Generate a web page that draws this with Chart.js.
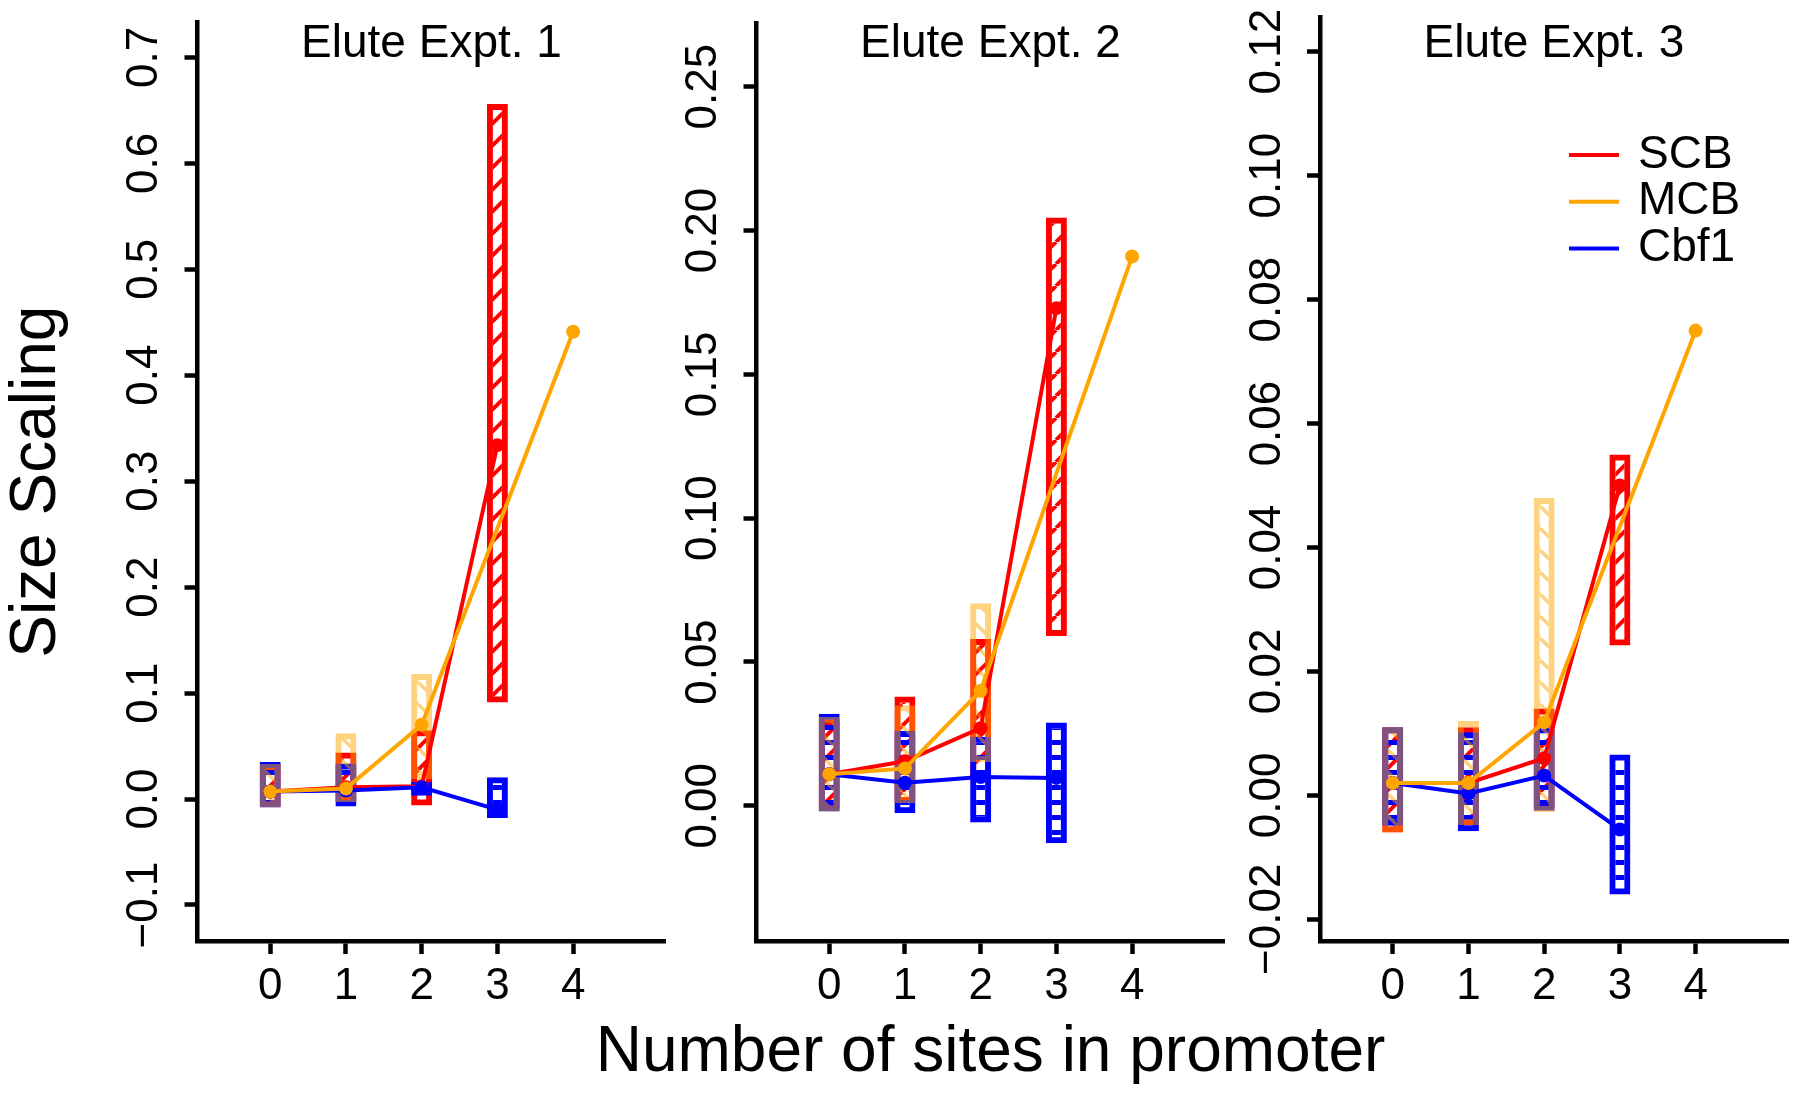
<!DOCTYPE html>
<html><head><meta charset="utf-8">
<script src="https://cdn.jsdelivr.net/npm/chart.js@4.4.1/dist/chart.umd.min.js"></script>
<style>
html,body{margin:0;padding:0;background:#fff;}
#wrap{position:relative;width:1800px;height:1098px;overflow:hidden;}
.panel{position:absolute;left:0;top:0;width:1800px;height:1098px;}
</style></head><body>
<div id="wrap">
<div class="panel"><canvas id="c1"></canvas></div>
<div class="panel"><canvas id="c2"></canvas></div>
<div class="panel"><canvas id="c3"></canvas></div>
</div>
<script>
// ---------------- data ----------------
const sites = [0, 1, 2, 3, 4];
const xTicks = [0, 1, 2, 3, 4];
const seriesNames = ['SCB', 'MCB', 'Cbf1'];
const panelTitles = ['Elute Expt. 1', 'Elute Expt. 2', 'Elute Expt. 3'];
const xTitle = 'Number of sites in promoter';
const yTitle = 'Size Scaling';

// Elute Expt. 1
const scb1   = [0.007, 0.011, 0.012, 0.334];
const scb1Lo = [-0.007, -0.003, -0.006, 0.091];
const scb1Hi = [0.033, 0.044, 0.065, 0.656];
const mcb1   = [0.007, 0.010, 0.070, null, 0.441];
const mcb1Lo = [-0.008, -0.003, 0.019, null, null];
const mcb1Hi = [0.033, 0.062, 0.118, null, null];
const cbf1_1   = [0.007, 0.008, 0.011, -0.010];
const cbf1_1Lo = [-0.008, -0.007, 0.003, -0.018];
const cbf1_1Hi = [0.035, 0.0335, 0.016, 0.0206];

// Elute Expt. 2
const scb2   = [0.011, 0.0155, 0.027, 0.173];
const scb2Lo = [-0.001, 0.001, 0.0095, 0.059];
const scb2Hi = [0.030, 0.038, 0.058, 0.2045];
const mcb2   = [0.011, 0.013, 0.040, null, 0.191];
const mcb2Lo = [-0.002, 0.001, 0.0152, null, null];
const mcb2Hi = [0.031, 0.035, 0.0704, null, null];
const cbf1_2   = [0.011, 0.008, 0.010, 0.0097];
const cbf1_2Lo = [-0.002, -0.0026, -0.0058, -0.013];
const cbf1_2Hi = [0.032, 0.026, 0.024, 0.029];

// Elute Expt. 3
const scb3   = [0.002, 0.002, 0.006, 0.050];
const scb3Lo = [-0.006, -0.0048, -0.002, 0.0242];
const scb3Hi = [0.011, 0.011, 0.014, 0.055];
const mcb3   = [0.002, 0.002, 0.0118, null, 0.075];
const mcb3Lo = [-0.006, -0.0048, -0.0027, null, null];
const mcb3Hi = [0.011, 0.012, 0.048, null, null];
const cbf1_3   = [0.002, 0.0003, 0.0032, -0.0055];
const cbf1_3Lo = [-0.0049, -0.0058, -0.0025, -0.016];
const cbf1_3Hi = [0.011, 0.0102, 0.011, 0.0066];

// axis ticks
const yTicks1  = [-0.1, 0, 0.1, 0.2, 0.3, 0.4, 0.5, 0.6, 0.7];
const yLabels1 = ['\u22120.1', '0.0', '0.1', '0.2', '0.3', '0.4', '0.5', '0.6', '0.7'];
const yTicks2  = [0, 0.05, 0.10, 0.15, 0.20, 0.25];
const yLabels2 = ['0.00', '0.05', '0.10', '0.15', '0.20', '0.25'];
const yTicks3  = [-0.02, 0, 0.02, 0.04, 0.06, 0.08, 0.10, 0.12];
const yLabels3 = ['\u22120.02', '0.00', '0.02', '0.04', '0.06', '0.08', '0.10', '0.12'];

// ---------------- styles ----------------
const FONT = '"Liberation Sans", Arial, Helvetica, sans-serif';
Chart.defaults.font.family = FONT;
Chart.defaults.color = '#000';
const RED = '#ff0000', BLUE = '#0000ff', ORANGE = '#ffa500', ORANGE_T = 'rgba(255,165,0,0.5)';

const panelsLayout = [
  {axisX: 197.5, right: 665.5, yW: 197.5, yMin: -0.134, yMax: 0.733, tickPad: -4},
  {axisX: 756.5, right: 1224.5, yW: 130, yMin: -0.047, yMax: 0.272, tickPad: -3},
  {axisX: 1320, right: 1788, yW: 130, yMin: -0.0235, yMax: 0.1256, tickPad: -17}
];
const X_MIN = -0.96, X_MAX = 5.22, TOP = 17, BOTTOM = 941, H = 1098;

function hatch(ctx, kind, color, lw) {
  const c = document.createElement('canvas');
  const s = kind === 'h' ? 15 : 22;
  c.width = s; c.height = s;
  const g = c.getContext('2d');
  g.strokeStyle = color; g.lineWidth = lw;
  g.beginPath();
  if (kind === 'h') { g.moveTo(0, s / 2); g.lineTo(s, s / 2); }
  else if (kind === '/') { for (let k = -1; k <= 1; k++) { g.moveTo(k * s, s); g.lineTo(k * s + s, 0); } }
  else { for (let k = -1; k <= 1; k++) { g.moveTo(k * s, 0); g.lineTo(k * s + s, s); } }
  g.stroke();
  return ctx.createPattern(c, 'repeat');
}

function boxData(lo, hi) {
  return sites.map((s, i) => (lo[i] == null) ? null : {x: s, y: [lo[i], hi[i]]}).filter(Boolean);
}
function lineData(m) {
  return sites.map((s, i) => (m[i] == null) ? null : {x: s, y: m[i]}).filter(Boolean);
}

const panelTitlePlugin = {
  id: 'panelTitle',
  afterDraw(chart, args, opts) {
    const {ctx, chartArea} = chart;
    ctx.save();
    ctx.font = '46px ' + FONT;
    ctx.fillStyle = '#000';
    ctx.textAlign = 'center';
    ctx.textBaseline = 'alphabetic';
    ctx.fillText(opts.text, (chartArea.left + chartArea.right) / 2, 57);
    if (opts.xTitle) {
      ctx.font = '64px ' + FONT;
      ctx.fillText(opts.xTitle, (chartArea.left + chartArea.right) / 2, 1071);
    }
    if (opts.legend) {
      const cols = [RED, ORANGE, BLUE];
      ctx.font = '46px ' + FONT;
      ctx.textAlign = 'left';
      ctx.textBaseline = 'middle';
      opts.legend.forEach((name, i) => {
        const y = 155 + i * 46.7;
        ctx.strokeStyle = cols[i];
        ctx.lineWidth = 4;
        ctx.beginPath(); ctx.moveTo(1569, y); ctx.lineTo(1619, y); ctx.stroke();
        ctx.fillStyle = '#000';
        ctx.fillText(name, 1638, y);
      });
    }
    ctx.restore();
  }
};

function makePanel(idx, scb, scbLo, scbHi, mcb, mcbLo, mcbHi, cbf, cbfLo, cbfHi, yTicks, yLabels) {
  const L = panelsLayout[idx];
  const canvas = document.getElementById('c' + (idx + 1));
  const ctx = canvas.getContext('2d');
  const boxCommon = {type: 'bar', grouped: false, barThickness: 21, borderWidth: 6, borderSkipped: false, inflateAmount: 0};
  const lineCommon = {type: 'line', borderWidth: 4, pointRadius: 7, pointHoverRadius: 7, pointBorderWidth: 0, tension: 0, fill: false};
  const gridCommon = {drawOnChartArea: false, drawTicks: true, tickLength: 13, tickWidth: 4.5, tickColor: '#000', color: '#000', offset: false};
  const borderCommon = {display: true, color: '#000', width: 4.5};
  return new Chart(ctx, {
    type: 'bar',
    data: {
      datasets: [
        Object.assign({}, boxCommon, {label: seriesNames[0] + ' CI', data: boxData(scbLo, scbHi), borderColor: RED, backgroundColor: hatch(ctx, '/', RED, 4), order: 6}),
        Object.assign({}, boxCommon, {label: seriesNames[2] + ' CI', data: boxData(cbfLo, cbfHi), borderColor: BLUE, backgroundColor: hatch(ctx, 'h', BLUE, 5), order: 5}),
        Object.assign({}, boxCommon, {label: seriesNames[1] + ' CI', data: boxData(mcbLo, mcbHi), borderColor: ORANGE_T, backgroundColor: hatch(ctx, '\\', ORANGE_T, 3.5), order: 4}),
        Object.assign({}, lineCommon, {label: seriesNames[0], data: lineData(scb), borderColor: RED, backgroundColor: RED, pointBackgroundColor: RED, order: 3}),
        Object.assign({}, lineCommon, {label: seriesNames[2], data: lineData(cbf), borderColor: BLUE, backgroundColor: BLUE, pointBackgroundColor: BLUE, order: 2}),
        Object.assign({}, lineCommon, {label: seriesNames[1], data: lineData(mcb), borderColor: ORANGE, backgroundColor: ORANGE, pointBackgroundColor: ORANGE, order: 1})
      ]
    },
    options: {
      responsive: true, maintainAspectRatio: false, animation: false, events: [],
      layout: {padding: {left: L.axisX - L.yW, right: 1800 - L.right, top: TOP, bottom: 0}},
      plugins: {
        legend: {display: false}, tooltip: {enabled: false},
        panelTitle: {text: panelTitles[idx], xTitle: idx === 1 ? xTitle : null, legend: idx === 2 ? seriesNames : null}
      },
      scales: {
        x: {
          type: 'linear', position: 'bottom', min: X_MIN, max: X_MAX, bounds: 'data', offset: false,
          afterBuildTicks: ax => { ax.ticks = xTicks.map(v => ({value: v})); },
          afterFit: ax => { ax.height = H - BOTTOM; },
          grid: gridCommon, border: borderCommon,
          ticks: {autoSkip: false, minRotation: 0, maxRotation: 0, padding: 6, color: '#000', font: {size: 44}, callback: v => String(v)}
        },
        y: {
          type: 'linear', position: 'left', min: L.yMin, max: L.yMax, bounds: 'data', beginAtZero: false,
          afterBuildTicks: ax => { ax.ticks = yTicks.map(v => ({value: v})); },
          afterFit: ax => { ax.width = L.yW; },
          grid: gridCommon, border: borderCommon,
          ticks: {autoSkip: false, minRotation: 90, maxRotation: 90, crossAlign: 'center', padding: L.tickPad, color: '#000', font: {size: 44}, callback: (v, i) => yLabels[i]},
          title: idx === 0 ? {display: true, text: yTitle, color: '#000', font: {size: 64, lineHeight: 1}, padding: {top: 5, bottom: 0}} : {display: false}
        }
      }
    },
    plugins: [panelTitlePlugin]
  });
}

makePanel(0, scb1, scb1Lo, scb1Hi, mcb1, mcb1Lo, mcb1Hi, cbf1_1, cbf1_1Lo, cbf1_1Hi, yTicks1, yLabels1);
makePanel(1, scb2, scb2Lo, scb2Hi, mcb2, mcb2Lo, mcb2Hi, cbf1_2, cbf1_2Lo, cbf1_2Hi, yTicks2, yLabels2);
makePanel(2, scb3, scb3Lo, scb3Hi, mcb3, mcb3Lo, mcb3Hi, cbf1_3, cbf1_3Lo, cbf1_3Hi, yTicks3, yLabels3);
</script>
</body></html>
